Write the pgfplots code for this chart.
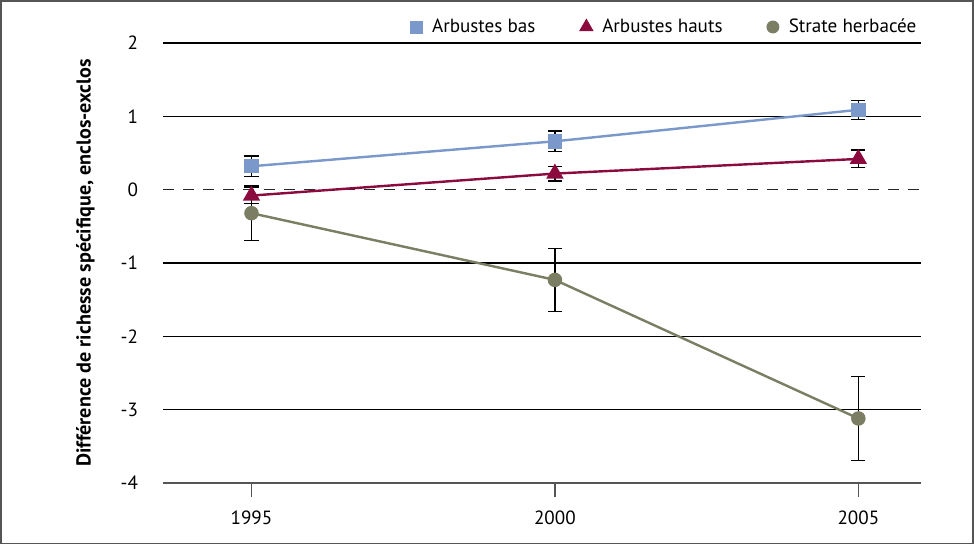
\documentclass[border=0pt]{standalone}
\usepackage{pgfplots}
\pgfplotsset{compat=1.18}
\usepackage{fontspec}
\setmainfont{PT Sans}
\definecolor{cbas}{HTML}{7B98CB}
\definecolor{chaut}{HTML}{8C0B3F}
\definecolor{cherb}{HTML}{7B7E63}
\definecolor{caxis}{HTML}{555555}
\begin{document}
\fontsize{9.5}{11}\selectfont
\begin{tikzpicture}
\begin{axis}[
  at={(0,0)}, anchor=south west,
  scale only axis, width=376.5pt, height=218.5pt,
  xmin=1993.54, xmax=2006.03, ymin=-4, ymax=2,
  axis x line*=bottom, axis y line*=left,
  x axis line style={caxis, line width=0.8pt, -},
  y axis line style={draw=none},
  xtick={1995,2000,2005}, xticklabels={1995,2000,2005},
  x tick style={caxis, line width=0.8pt},
  tick align=outside, major tick length=7pt,
  ytick={-4,-3,-2,-1,1,2}, yticklabels={-4,-3,-2,-1,1,2},
  extra y ticks={0}, extra y tick labels={0},
  extra y tick style={grid style={black!85, dash pattern=on 5.5pt off 4.5pt, line width=0.55pt}, tick style={draw=none}},
  y tick style={draw=none},
  ymajorgrids, grid style={black, line width=0.6pt},
  yticklabel style={xshift=-2pt},
  xticklabel style={yshift=-3.5pt},
  tick label style={font=\fontsize{9.5}{11}\selectfont},
  ylabel={\bfseries Différence de richesse spécifique, enclos-exclos},
  ylabel style={at={(axis description cs:-0.1023,0.5)}, anchor=center, font=\fontsize{10}{12}\selectfont},
  legend columns=3,
  legend style={draw=none, fill=none, at={(axis description cs:1,1)}, anchor=east, yshift=8pt,
    inner sep=0pt, font=\fontsize{9.5}{11}\selectfont,
    /tikz/every even column/.append style={column sep=20pt}},
  legend image code/.code={\draw[#1] plot coordinates {(0.05cm,0cm)};\path (0cm,0cm) (0.25cm,0cm);},
  clip=false,
]
\addlegendimage{only marks, mark=square*, mark size=3pt, color=cbas}
\addlegendimage{only marks, mark=triangle*, mark size=3.8pt, color=chaut}
\addlegendimage{only marks, mark=*, mark size=3pt, color=cherb}
\legend{Arbustes bas, Arbustes hauts, Strate herbacée}

\addplot[forget plot, color=cherb, line width=1.2pt, mark=*, mark size=3pt,
  error bars/.cd, y dir=both, y explicit, error bar style={black, line width=0.7pt},
  error mark options={rotate=90, black, mark size=3.5pt, line width=0.7pt}]
  coordinates {(1995,-0.32) +- (0,0.37) (2000,-1.23) +- (0,0.43) (2005,-3.12) +- (0,0.57)};
\addplot[forget plot, color=chaut, line width=1.2pt, mark=triangle*, mark size=3.8pt,
  error bars/.cd, y dir=both, y explicit, error bar style={black, line width=0.7pt},
  error mark options={rotate=90, black, mark size=3.5pt, line width=0.7pt}]
  coordinates {(1995,-0.08) +- (0,0.11) (2000,0.22) +- (0,0.10) (2005,0.42) +- (0,0.12)};
\addplot[forget plot, color=cbas, line width=1.2pt, mark=square*, mark size=3pt,
  error bars/.cd, y dir=both, y explicit, error bar style={black, line width=0.7pt},
  error mark options={rotate=90, black, mark size=3.5pt, line width=0.7pt}]
  coordinates {(1995,0.32) +- (0,0.14) (2000,0.66) +- (0,0.14) (2005,1.09) +- (0,0.13)};
\end{axis}
\draw[caxis, line width=0.8pt] (-80.5pt,-30pt) rectangle (402.5pt,239.5pt);
\end{tikzpicture}
\end{document}
